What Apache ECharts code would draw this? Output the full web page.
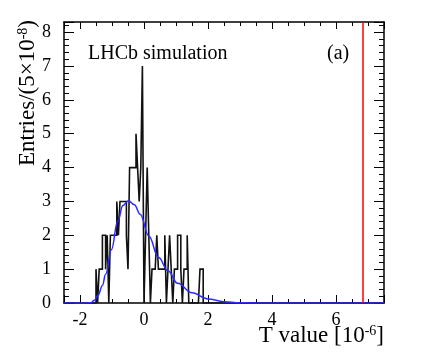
<!DOCTYPE html>
<html>
<head>
<meta charset="utf-8">
<script src="https://cdn.jsdelivr.net/npm/echarts@6/dist/echarts.min.js"></script>
<style>
html, body { margin: 0; padding: 0; background: #fff; }
#chart { width: 427px; height: 357px; }
</style>
</head>
<body>
<div id="chart"></div>
<script>
// Histogramm: Binbreite 0.05 (in 1e-6), Bereich -2.5 .. 7.5
const binWidth = 0.05;
const histMin = -2.5;
const histMax = 7.5;
const yMax = 8.3;

// gefuellte Bins ab der unteren Kante -1.60
const filledStart = -1.60;
const binCounts = [
    0, 0, 1, 0, 1, 1, 2, 2, 1, 2,   // -1.60 .. -1.15
    0, 2, 2, 2, 2, 3, 2, 3, 3, 3,   // -1.10 .. -0.65
    3, 2, 1, 4, 4, 4, 4, 5, 4, 3,   // -0.60 .. -0.15
    4, 7, 0, 2, 4, 2, 0, 1, 1, 1,   //  -0.10 .. 0.35
    2, 1, 1, 1, 1, 2, 0, 1, 2, 1,   //  0.40 .. 0.85
    0, 1, 1, 2, 2, 1, 0, 1, 1, 2,   //  0.90 .. 1.35
    0, 0, 0, 0, 0, 0, 0, 1, 1, 0    //  1.40 .. 1.85
];

// Fitkurve
const fitX = [-2.5, -1.8, -1.66, -1.55, -1.44, -1.3, -1.2, -1.02, -0.82, -0.66, -0.49, -0.3, -0.12, 0.15, 0.45, 0.75, 1.05, 1.5, 2.0, 2.5, 3.0, 3.5, 7.5];
const fitY = [0, 0, 0.01, 0.08, 0.22, 0.52, 0.85, 1.57, 2.42, 2.88, 3.02, 2.9, 2.62, 1.98, 1.35, 0.95, 0.58, 0.3, 0.12, 0.04, 0.01, 0, 0];

// rote Linie
const redLineX = 6.84;

const xTickStep = 2;
const serif = '"Liberation Serif", "Times New Roman", serif';

// Stufen-Daten aus den Bins bauen
const nBins = Math.round((histMax - histMin) / binWidth);
const startIdx = Math.round((filledStart - histMin) / binWidth);
const histData = [];
for (let i = 0; i < nBins; i++) {
    const k = i - startIdx;
    const v = (k >= 0 && k < binCounts.length) ? binCounts[k] : 0;
    histData.push([+(histMin + i * binWidth).toFixed(4), v]);
}
histData.push([histMax, 0]);

const fitData = fitX.map((x, i) => [x, fitY[i]]);

const chart = echarts.init(document.getElementById('chart'));

const tickCommon = {
    axisLine: { show: true, onZero: false, lineStyle: { color: '#000', width: 1.5 } },
    splitLine: { show: false }
};

const rich = {
    a: { fontFamily: serif, fontSize: 23, color: '#000' },
    s: { fontFamily: serif, fontSize: 14, color: '#000', verticalAlign: 'top' }
};

const labelStyle = { fontFamily: serif, fontSize: 18, color: '#000' };

const option = {
    animation: false,
    textStyle: { fontFamily: serif },
    grid: { left: 64, top: 22, width: 320, height: 281, containLabel: false },
    xAxis: [
        Object.assign({
            type: 'value', min: histMin, max: histMax, splitNumber: 5, position: 'bottom',
            axisTick: { inside: true, length: 8, lineStyle: { color: '#000' } },
            minorTick: { show: true, splitNumber: 4, length: 4, lineStyle: { color: '#000' } },
            axisLabel: Object.assign({
                margin: 8,
                formatter: v => (Math.abs(v % xTickStep) < 1e-9 ? String(v) : '')
            }, labelStyle)
        }, tickCommon),
        Object.assign({
            type: 'value', min: histMin, max: histMax, splitNumber: 5, position: 'top',
            axisTick: { inside: true, length: 7, lineStyle: { color: '#000' } },
            minorTick: { show: true, splitNumber: 4, length: 4, lineStyle: { color: '#000' } },
            axisLabel: { show: false }
        }, tickCommon)
    ],
    yAxis: [
        Object.assign({
            type: 'value', min: 0, max: yMax, interval: 1, position: 'left',
            axisTick: { inside: true, length: 10, lineStyle: { color: '#000' } },
            minorTick: { show: true, splitNumber: 5, length: 5, lineStyle: { color: '#000' } },
            axisLabel: Object.assign({
                margin: 13,
                formatter: v => (Number.isInteger(v) ? String(v) : '')
            }, labelStyle)
        }, tickCommon),
        Object.assign({
            type: 'value', min: 0, max: yMax, interval: 1, position: 'right',
            axisTick: { inside: true, length: 10, lineStyle: { color: '#000' } },
            minorTick: { show: true, splitNumber: 5, length: 5, lineStyle: { color: '#000' } },
            axisLabel: { show: false }
        }, tickCommon)
    ],
    series: [
        {
            type: 'line', data: histData, step: 'end', showSymbol: false,
            lineStyle: { color: '#111', width: 1.6, join: 'miter' }, xAxisIndex: 0, yAxisIndex: 0
        },
        {
            type: 'line', data: fitData, smooth: 0.4, smoothMonotone: 'x', showSymbol: false,
            lineStyle: { color: '#2b2bff', width: 1.5 }, xAxisIndex: 0, yAxisIndex: 0,
            markLine: {
                silent: true, symbol: 'none', label: { show: false },
                lineStyle: { color: '#ff0000', width: 1.5, type: 'solid' },
                data: [{ xAxis: redLineX }]
            }
        }
    ],
    graphic: [
        {
            type: 'text', x: 88, y: 54,
            style: { text: 'LHCb simulation', font: '20px "Liberation Serif"', fill: '#000', align: 'left', verticalAlign: 'middle' }
        },
        {
            type: 'text', x: 327, y: 54,
            style: { text: '(a)', font: '20px "Liberation Serif"', fill: '#000', align: 'left', verticalAlign: 'middle' }
        },
        {
            type: 'text', x: 384, y: 336,
            style: { text: '{a|T value [10}{s|-6}{a|]}', rich: rich, align: 'right', verticalAlign: 'middle' }
        },
        {
            type: 'text', x: 28, y: 20, rotation: Math.PI / 2,
            style: { text: '{a|Entries/(5×10}{s|-8}{a|)}', rich: rich, align: 'right', verticalAlign: 'middle' }
        }
    ]
};

chart.setOption(option);
</script>
</body>
</html>
